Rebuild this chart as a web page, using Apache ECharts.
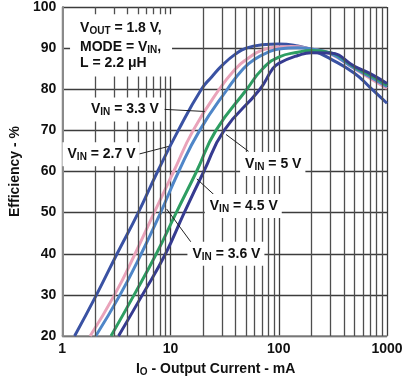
<!DOCTYPE html>
<html>
<head>
<meta charset="utf-8">
<script src="https://cdn.jsdelivr.net/npm/echarts@6/dist/echarts.min.js"></script>
<style>html,body{margin:0;padding:0;background:#fff}#c{width:414px;height:386px}</style>
</head>
<body>
<div id="c"></div>
<script>
// ---- Data ----
const curr27 = [1.30, 2.07, 3.21, 5.04, 7.6, 11.8, 19.3, 24, 30, 40, 50, 70, 100, 150, 200, 300, 500, 700, 1000];
const eff27  = [20, 30, 40, 50, 60, 70, 80, 83, 85.8, 88.6, 90.0, 90.8, 91.0, 90.5, 89.6, 87.4, 83.9, 80.4, 76.6];

const curr33 = [1.81, 3.04, 4.71, 7.07, 10.7, 16.2, 28.2, 40, 50, 70, 100, 130, 200, 300, 500, 700, 1000];
const eff33  = [20, 30, 40, 50, 60, 70, 80, 85.0, 87.2, 89.5, 90.3, 90.4, 89.8, 88.6, 85.0, 82.6, 80.2];

const curr36 = [2.04, 3.42, 5.37, 8.1, 11.9, 18.6, 33.5, 47, 60, 80, 100, 150, 200, 300, 500, 700, 1000];
const eff36  = [20, 30, 40, 50, 60, 70, 80, 85.0, 87.3, 89.0, 89.8, 90.1, 89.8, 88.7, 85.1, 83.0, 80.6];

const curr45 = [2.82, 4.61, 7.4, 11.3, 17.4, 26.3, 50.7, 71, 100, 150, 200, 300, 500, 700, 1000];
const eff45  = [20, 30, 40, 50, 60, 70, 80, 85.0, 87.8, 89.0, 89.4, 88.9, 85.4, 83.4, 81.0];

const curr50 = [3.31, 5.5, 9.0, 13.4, 20.3, 31.3, 67, 88, 100, 150, 200, 300, 500, 700, 1000];
const eff50  = [20, 30, 40, 50, 60, 70, 80, 85.0, 86.3, 88.2, 88.9, 88.8, 85.6, 83.8, 81.4];

const xMinorTicks = [2, 3, 4, 5, 6, 7, 8, 9, 20, 30, 40, 50, 60, 70, 80, 90, 200, 300, 400, 500, 600, 700, 800, 900];
const yTicks = [20, 30, 40, 50, 60, 70, 80, 90, 100];

// label anchors & arrows (data coordinates)
const labels = [
  { text: '3.3 V', at: [3.75, 75.1], from: [8.83, 75.1], to: [20.7, 74.6] },
  { text: '2.7 V', at: [2.28, 64.2], from: [5.04, 64.2], to: [9.6, 66.1] },
  { text: '5 V',   at: [88, 61.8],   from: [52.6, 64.9], to: [32.6, 69.0] },
  { text: '4.5 V', at: [47, 51.6],   from: [27.1, 53.6], to: [17.5, 58.2] },
  { text: '3.6 V', at: [32.5, 40.0], from: [15.8, 42.5], to: [9.2, 50.9] }
];
const noteLines = [
  { text: '{a|V}{s|OUT}{a| = 1.8 V,}', at: [1.18, 95.3] },
  { text: '{a|MODE = V}{s|IN}{a|,}',   at: [1.18, 90.3] },
  { text: '{a|L = 2.2 μH}',            at: [1.18, 85.9] }
];

// ---- Chart ----
const FONT = '"Liberation Sans", Arial, Helvetica, sans-serif';
const zip = (xs, ys) => xs.map((x, i) => [x, ys[i]]);

const rich = {
  a: { fontFamily: FONT, fontSize: 14, fontWeight: 'bold', color: '#111', lineHeight: 16 },
  s: { fontFamily: FONT, fontSize: 10, fontWeight: 'bold', color: '#111', lineHeight: 8, verticalAlign: 'bottom' }
};

function curve(name, xs, ys, color) {
  return {
    name, type: 'line', data: zip(xs, ys), smooth: 0.5,
    showSymbol: false, symbol: 'none',
    lineStyle: { color, width: 3 }, z: 3, silent: true
  };
}

const option = {
  backgroundColor: '#fff',
  animation: false,
  grid: { left: 54, right: 27, top: 5, bottom: 50 },
  xAxis: {
    type: 'log', logBase: 10, min: 1, max: 1000,
    name: '{a|I}{s|O}{a| - Output Current - mA}',
    nameLocation: 'middle', nameGap: 25,
    nameTextStyle: { rich, padding: [0, 18, 0, 0] },
    axisLine: { show: true, lineStyle: { color: '#8a8a8a', width: 1.5 } },
    axisTick: { show: false },
    axisLabel: {
      fontFamily: FONT, fontSize: 14, fontWeight: 'bold', color: '#111', margin: 6,
      formatter: v => String(Math.round(v))
    },
    splitLine: { show: true, lineStyle: { color: '#3c3c3c', width: 1.3 } }
  },
  yAxis: {
    type: 'value', min: yTicks[0], max: yTicks[yTicks.length - 1], interval: 10,
    name: 'Efficiency - %',
    nameLocation: 'middle', nameGap: 35,
    nameTextStyle: { fontFamily: FONT, fontSize: 14, fontWeight: 'bold', color: '#111' },
    axisLine: { show: true, lineStyle: { color: '#8a8a8a', width: 2 } },
    axisTick: { show: false },
    axisLabel: { fontFamily: FONT, fontSize: 14, fontWeight: 'bold', color: '#111', margin: 6 },
    splitLine: { show: true, lineStyle: { color: '#3c3c3c', width: 1.3 } }
  },
  series: [
    {
      name: 'grid', type: 'line', data: [], z: 1, silent: true,
      markLine: {
        silent: true, symbol: 'none', animation: false,
        label: { show: false },
        lineStyle: { color: '#4e4e4e', width: 1.3, type: 'solid' },
        emphasis: { disabled: true },
        data: xMinorTicks.map(v => ({ xAxis: v }))
      }
    },
    curve('VIN = 2.7 V', curr27, eff27, '#3a52a3'),
    curve('VIN = 3.3 V', curr33, eff33, '#e9a3ba'),
    curve('VIN = 3.6 V', curr36, eff36, '#4f86c8'),
    curve('VIN = 4.5 V', curr45, eff45, '#2e9e62'),
    curve('VIN = 5 V',   curr50, eff50, '#363b90'),
    {
      name: 'notes', type: 'line', data: [], z: 5, silent: true,
      markLine: {
        silent: true, animation: false,
        symbol: ['none', 'arrow'], symbolSize: [0, 9],
        label: { show: false },
        lineStyle: { color: '#222', width: 1, type: 'solid' },
        emphasis: { disabled: true },
        data: labels.map(l => [{ coord: l.from }, { coord: l.to }])
      },
      markPoint: {
        silent: true, animation: false,
        symbol: 'rect', symbolSize: 0,
        data: labels.map(l => ({
          coord: l.at,
          label: {
            show: true, position: 'inside', align: 'center', verticalAlign: 'middle',
            backgroundColor: '#fff', padding: [4, 4, 4, 5],
            formatter: '{a|V}{s|IN}{a| = ' + l.text + '}', rich
          }
        })).concat(noteLines.map((n, i) => ({
          coord: n.at,
          label: {
            show: true, position: 'inside', align: 'left', verticalAlign: 'middle',
            backgroundColor: '#fff', width: 92,
            padding: [i === 0 ? 6 : 2, 0, i === 2 ? 5 : 2, 10],
            formatter: n.text, rich
          }
        })))
      }
    }
  ]
};

const chart = echarts.init(document.getElementById('c'), null, { renderer: 'canvas' });
chart.setOption(option);
</script>
</body>
</html>
